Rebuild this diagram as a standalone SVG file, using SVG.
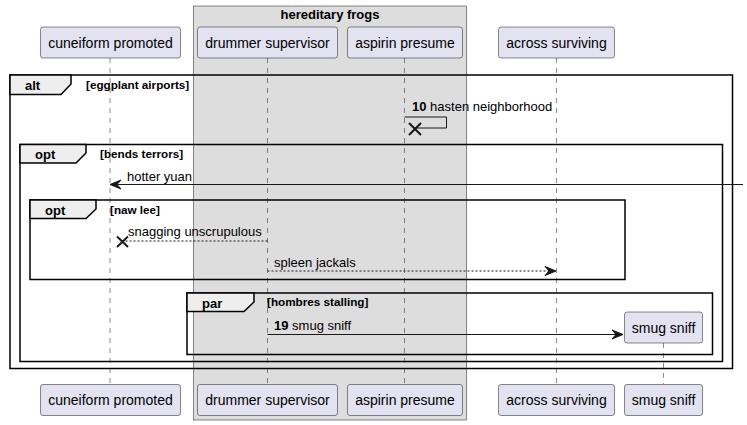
<svg xmlns="http://www.w3.org/2000/svg" width="747" height="425" viewBox="0 0 747 425">
<defs>
<style>
.p{fill:#E2E2F0;stroke:#181818;stroke-width:0.5}
.pt{font-family:"Liberation Sans",Arial,sans-serif;font-size:14px;fill:#000}
.ll{stroke:#181818;stroke-width:0.5;stroke-dasharray:5,5;fill:none}
.fr{fill:none;stroke:#000;stroke-width:1.5}
.tab{fill:#EEEEEE;stroke:#000;stroke-width:1.5}
.ft{font-family:"Liberation Sans",Arial,sans-serif;font-size:13px;font-weight:bold;fill:#000}
.fc{font-family:"Liberation Sans",Arial,sans-serif;font-size:11.7px;font-weight:bold;fill:#000}
.m{stroke:#181818;stroke-width:1;fill:none}
.md{stroke:#181818;stroke-width:1;fill:none;stroke-dasharray:2,2}
.mt{font-family:"Liberation Sans",Arial,sans-serif;font-size:13px;fill:#000}
.ah{fill:#181818;stroke:#181818;stroke-width:1}
.x{stroke:#181818;stroke-width:2;fill:none}
</style>
</defs>
<rect width="747" height="425" fill="#FFFFFF"/>
<g id="box-hereditary-frogs">
<rect x="193.5" y="6" width="273" height="414" fill="#DDDDDD" stroke="#181818" stroke-width="0.5"/>
<text x="330" y="19" text-anchor="middle" class="ft">hereditary frogs</text>
</g>
<g id="lifelines">
<line class="ll" x1="110" y1="58" x2="110" y2="384"/>
<line class="ll" x1="267.5" y1="58" x2="267.5" y2="384"/>
<line class="ll" x1="404.5" y1="58" x2="404.5" y2="384"/>
<line class="ll" x1="556.5" y1="58" x2="556.5" y2="384"/>
<line class="ll" x1="663.5" y1="343" x2="663.5" y2="384"/>
</g>
<g id="frame-alt">
<rect class="fr" x="10" y="75" width="722.5" height="293.5"/>
<polygon class="tab" points="10,75 71,75 71,84 61,94.5 10,94.5"/>
<text class="ft" x="25" y="90">alt</text>
<text class="fc" x="86" y="89">[eggplant airports]</text>
</g>
<g id="frame-opt-bends">
<rect class="fr" x="20" y="144.5" width="702.5" height="217"/>
<polygon class="tab" points="20,144.5 86,144.5 86,153 76,163 20,163"/>
<text class="ft" x="35" y="159">opt</text>
<text class="fc" x="100" y="158">[bends terrors]</text>
</g>
<g id="frame-opt-naw">
<rect class="fr" x="30" y="200" width="595" height="79.5"/>
<polygon class="tab" points="30,200 96,200 96,209 86,218.5 30,218.5"/>
<text class="ft" x="45" y="215">opt</text>
<text class="fc" x="110" y="214">[naw lee]</text>
</g>
<g id="frame-par">
<rect class="fr" x="187" y="293" width="525.5" height="61.5"/>
<polygon class="tab" points="187,293 254,293 254,302 244,311.5 187,311.5"/>
<text class="ft" x="202" y="308">par</text>
<text class="fc" x="267" y="306">[hombres stalling]</text>
</g>
<g id="connectors">
<g id="msg-10">
<polyline class="m" points="404.5,117 446.5,117 446.5,128 414,128"/>
<path class="x" d="M409,123 L421,135 M421,123 L409,135"/>
<text class="mt" x="412" y="111"><tspan font-weight="bold">10</tspan> hasten neighborhood</text>
</g>
<g id="msg-hotter-yuan">
<line class="m" x1="743" y1="184.5" x2="112" y2="184.5"/>
<polygon class="ah" points="110,184.5 121,180 117,184.5 121,189"/>
<text class="mt" x="127" y="181">hotter yuan</text>
</g>
<g id="msg-snagging">
<line class="md" x1="267.5" y1="241" x2="124" y2="241"/>
<path class="x" d="M117,236.5 L128,247 M128,236.5 L117,247"/>
<text class="mt" x="128" y="236">snagging unscrupulous</text>
</g>
<g id="msg-spleen">
<line class="md" x1="267.5" y1="271" x2="554" y2="271"/>
<polygon class="ah" points="556,271 545,266.5 549,271 545,275.5"/>
<text class="mt" x="274" y="267">spleen jackals</text>
</g>
<g id="msg-19">
<line class="m" x1="267.5" y1="334.5" x2="621" y2="334.5"/>
<polygon class="ah" points="623,334.5 612,330 616,334.5 612,339"/>
<text class="mt" x="274" y="330"><tspan font-weight="bold">19</tspan> smug sniff</text>
</g>
</g>
<g id="p-cuneiform">
<rect class="p" x="40.5" y="27" width="140" height="31" rx="2.5"/>
<text class="pt" x="110.5" y="47.5" text-anchor="middle">cuneiform promoted</text>
<rect class="p" x="40.5" y="384.5" width="140" height="31" rx="2.5"/>
<text class="pt" x="110.5" y="405" text-anchor="middle">cuneiform promoted</text>
</g>
<g id="p-drummer">
<rect class="p" x="197.5" y="27" width="140" height="31" rx="2.5"/>
<text class="pt" x="267.5" y="47.5" text-anchor="middle">drummer supervisor</text>
<rect class="p" x="197.5" y="384.5" width="140" height="31" rx="2.5"/>
<text class="pt" x="267.5" y="405" text-anchor="middle">drummer supervisor</text>
</g>
<g id="p-aspirin">
<rect class="p" x="347.5" y="27" width="115" height="31" rx="2.5"/>
<text class="pt" x="405" y="47.5" text-anchor="middle">aspirin presume</text>
<rect class="p" x="347.5" y="384.5" width="115" height="31" rx="2.5"/>
<text class="pt" x="405" y="405" text-anchor="middle">aspirin presume</text>
</g>
<g id="p-across">
<rect class="p" x="498.5" y="27" width="116" height="31" rx="2.5"/>
<text class="pt" x="556.5" y="47.5" text-anchor="middle">across surviving</text>
<rect class="p" x="498.5" y="384.5" width="116" height="31" rx="2.5"/>
<text class="pt" x="556.5" y="405" text-anchor="middle">across surviving</text>
</g>
<g id="p-smug-sniff">
<rect class="p" x="624.5" y="312" width="78" height="31" rx="2.5"/>
<text class="pt" x="663.5" y="332.5" text-anchor="middle">smug sniff</text>
<rect class="p" x="624.5" y="384.5" width="78" height="31" rx="2.5"/>
<text class="pt" x="663.5" y="405" text-anchor="middle">smug sniff</text>
</g>
</svg>
